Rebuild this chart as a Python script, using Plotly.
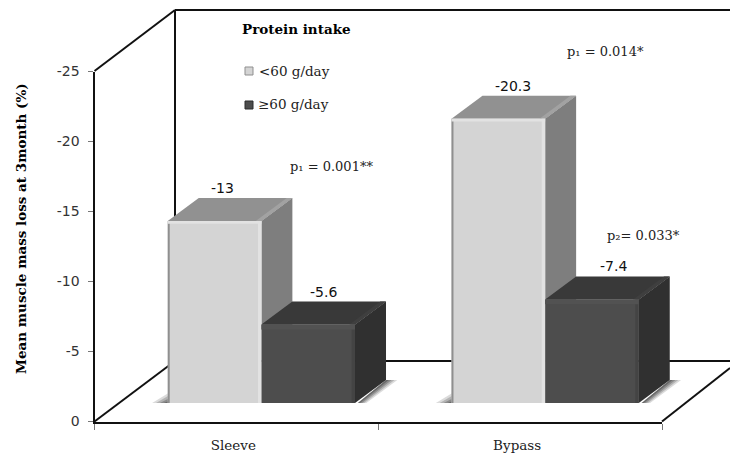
import plotly.graph_objects as go

W, H = 730, 453
categories = ["Sleeve", "Bypass"]
low_protein = [-13, -20.3]
high_protein = [-5.6, -7.4]
y_ticks = [0, -5, -10, -15, -20, -25]
y_tick_labels = ["0", "-5", "-10", "-15", "-20", "-25"]
SERIF = "DejaVu Serif"
SANS = "DejaVu Sans"


def fx(px):
    return px / W


def fy(py):
    return 1 - py / H


BAR_W = 0.33
DX = 31 / 283.75
DY = 23 / 14
fig = go.Figure()


def poly(xs, ys, color, axis="2"):
    fig.add_trace(go.Scatter(
        x=xs + xs[:1], y=ys + ys[:1], xaxis="x" + axis, yaxis="y" + axis,
        mode="lines", line=dict(width=0), fill="toself", fillcolor=color,
        hoverinfo="skip", showlegend=False))


# invisible carrier for the category axis
fig.add_trace(go.Scatter(x=categories, y=[0, 0], mode="markers",
                         marker=dict(opacity=0), hoverinfo="skip", showlegend=False))

# soft floor shadows + depth faces
for i in range(2):
    left = i - BAR_W
    right = i + BAR_W
    for k, a in [(1.0, 0.14), (0.75, 0.18), (0.5, 0.22), (0.25, 0.25)]:
        poly([left - 0.055 * k, left + 0.01, left + 0.01],
             [0, 0, -0.8 * k], f"rgba(0,0,0,{a})")
        poly([right + 0.01, right + DX, right + DX + 0.04 * k, right + 0.01 + 0.03 * k],
             [0, -DY, -DY, 0], f"rgba(0,0,0,{a})")
    for v, x0, top_c, top_e, side_c in [
        (low_protein[i], left, "#919191", "#a2a2a2", "#7e7e7e"),
        (high_protein[i], i, "#393939", "#3f3f3f", "#303030"),
    ]:
        x1 = x0 + BAR_W
        # right side face
        poly([x1, x1 + DX, x1 + DX, x1], [0, -DY, v - DY, v], side_c)
        # top face
        poly([x0, x1, x1 + DX, x0 + DX], [v, v, v - DY, v - DY], top_c)
        # lighter far-right edge of the top face
        poly([x1 - 0.02, x1, x1 + DX, x1 + DX - 0.02],
             [v, v, v - DY, v - DY], top_e)

# front faces: real bars
fig.add_trace(go.Bar(name="<60 g/day", x=[0, 1], y=low_protein, width=BAR_W, offset=-BAR_W,
                     marker=dict(color="#d4d4d4", line=dict(width=0)),
                     xaxis="x3", yaxis="y3", hoverinfo="x+y", showlegend=False))
fig.add_trace(go.Bar(name="≥60 g/day", x=[0, 1], y=high_protein, width=BAR_W, offset=0,
                     marker=dict(color="#4d4d4d", line=dict(width=0)),
                     xaxis="x3", yaxis="y3", hoverinfo="x+y", showlegend=False))

# bevels on the front faces
for i in range(2):
    left = i - BAR_W
    v = low_protein[i]
    poly([left, left + 0.007, left + 0.007, left], [0, 0, v, v], "#8f8f8f", "3")
    poly([i - 0.012, i, i, i - 0.012], [0, 0, v, v], "#e2e2e2", "3")
    poly([left, i, i, left], [v, v, v + 0.2, v + 0.2], "#e2e2e2", "3")
    v = high_protein[i]
    poly([i + BAR_W - 0.012, i + BAR_W, i + BAR_W, i + BAR_W - 0.012],
         [0, 0, v, v], "#444444", "3")
    poly([i, i + BAR_W, i + BAR_W, i], [v, v, v + 0.35, v + 0.35], "#525252", "3")
    poly([left, i + BAR_W, i + BAR_W, left], [0, 0, 0.12, 0.12], "#9a9a9a", "3")

# walls and floor
INK = "#111111"
shapes = []


def seg(x0, y0, x1, y1, width=2, color=INK):
    shapes.append(dict(type="line", xref="paper", yref="paper", layer="below",
                       x0=fx(x0), y0=fy(y0), x1=fx(x1), y1=fy(y1),
                       line=dict(color=color, width=width)))


seg(94.5, 71, 175, 10)
seg(175, 10, 730, 10)
seg(175, 10, 175, 361)
seg(94.5, 421.5, 175, 361)
seg(175, 361, 730, 361)
seg(662, 421.5, 730, 368)

# legend keys
for py, c, e in [(71, "#d4d4d4", "#8f8f8f"), (105, "#4d4d4d", "#2c2c2c")]:
    shapes.append(dict(type="rect", xref="paper", yref="paper",
                       x0=fx(245), x1=fx(253), y0=fy(py + 4), y1=fy(py - 4),
                       fillcolor=c, line=dict(color=e, width=1)))

# annotations
ann = []


def text(s, px, py, size=12.5, family=SERIF, bold=False, color="#222222", angle=0):
    ann.append(dict(text=f"<b>{s}</b>" if bold else s, xref="paper", yref="paper",
                    x=fx(px), y=fy(py), xanchor="center", yanchor="middle", showarrow=False,
                    textangle=angle, font=dict(family=family, size=size, color=color)))


text("Protein intake", 296.5, 29, 13.5, bold=True, color="#000000")
text("<60 g/day", 294, 71, 13.5)
text("≥60 g/day", 293, 104.5, 13.5)
text("p₁ = 0.001**", 331.5, 166, 13)
text("p₁ = 0.014*", 605.5, 51, 13)
text("p₂= 0.033*", 643.5, 235, 13)
text("Mean muscle mass loss at 3month (%)", 21, 229, 13.5, bold=True, color="#000000", angle=-90)

label_shift = [[8, 15], [15, 21.5]]
for i in range(2):
    for j, (vals, cx) in enumerate([(low_protein, i - BAR_W / 2), (high_protein, i + BAR_W / 2)]):
        v = vals[i]
        ann.append(dict(text=f"{v:g}", xref="x3", yref="y3", x=cx, y=v - DY,
                        xshift=label_shift[j][i],
                        yshift=10, showarrow=False, xanchor="center", yanchor="middle",
                        font=dict(family=SANS, size=14, color="#111111")))

Y_DOM = [fy(421.5), fy(71.5)]
Y_DOM2 = [fy(403), fy(53)]
X_DOM = [fx(94.5), fx(662)]
X_DOM2 = [fx(119.5), fx(687)]
hidden = dict(visible=False, fixedrange=True, automargin=False)

fig.update_layout(
    width=W, height=H, margin=dict(l=0, r=0, t=0, b=0, autoexpand=False),
    paper_bgcolor="white", plot_bgcolor="rgba(0,0,0,0)",
    barmode="overlay", showlegend=False, shapes=shapes, annotations=ann,
    xaxis=dict(domain=X_DOM, type="category", categoryorder="array", categoryarray=categories,
               range=[-0.5, 1.5], tickson="boundaries", ticks="outside", ticklen=6,
               tickcolor="#777777", tickwidth=1, showgrid=False, zeroline=False, automargin=False,
               showline=True, linecolor=INK, linewidth=2, ticklabelstandoff=10, ticklabelshift=-3,
               tickfont=dict(family=SERIF, size=13.5, color="#222222"), fixedrange=True),
    yaxis=dict(domain=Y_DOM, range=[0, -25], tickvals=y_ticks, ticktext=y_tick_labels,
               ticks="outside", ticklen=5,
               tickcolor="#777777", tickwidth=1, showgrid=False, zeroline=False, automargin=False,
               showline=True, linecolor=INK, linewidth=2, ticklabelstandoff=5,
               tickfont=dict(family=SANS, size=14, color="#333333"), fixedrange=True),
    xaxis2=dict(domain=X_DOM2, range=[-0.5, 1.5], anchor="y2", **hidden),
    yaxis2=dict(domain=Y_DOM2, range=[0, -25], anchor="x2", **hidden),
    xaxis3=dict(domain=X_DOM2, range=[-0.5, 1.5], anchor="y3", **hidden),
    yaxis3=dict(domain=Y_DOM2, range=[0, -25], anchor="x3", **hidden),
)

fig.write_html("out.html", config=dict(displayModeBar=False),
               post_script="document.body.style.margin='0';document.body.style.overflow='hidden';")
